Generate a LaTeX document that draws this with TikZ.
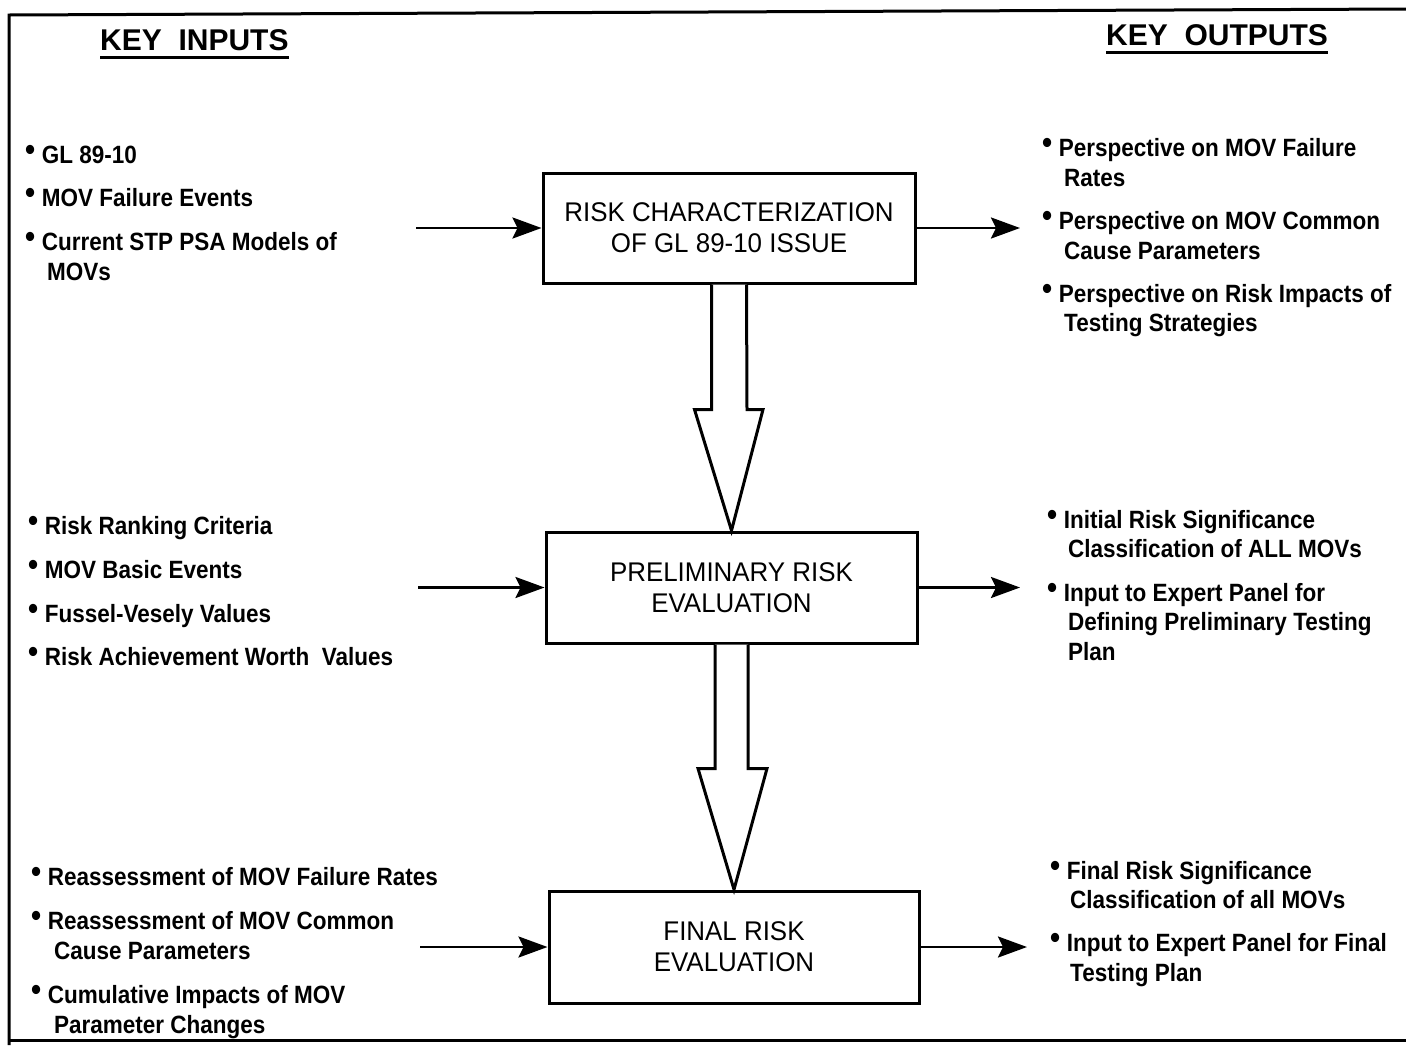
\documentclass[tikz,border=0pt]{standalone}
\usepackage{fontspec}
\setmainfont{Liberation Sans}
\newfontfamily\itemfont{Liberation Sans}[FakeStretch=0.9]
\newfontfamily\boxfont{Liberation Sans}[FakeStretch=0.96]
\usetikzlibrary{arrows.meta,calc}

% raised bullet in front of each list entry
\newcommand\bul{\raisebox{2.5pt}{\fontsize{32}{32}\selectfont •}\hspace{6.5pt}}

\tikzset{
  frame/.style={line width=3pt},
  procbox/.style={draw, line width=3pt, inner sep=0pt, align=center,
    font=\boxfont\fontsize{27}{31}\selectfont},
  flow/.style={line width=2.6pt, -{Stealth[length=29pt, width=21pt, inset=5pt]}},
  bigarrow/.style={draw, line width=3pt, fill=white, line join=miter},
  heading/.style={anchor=base west, inner sep=0pt,
    font=\bfseries\fontsize{30}{36}\selectfont},
  uline/.style={line width=3pt},
  entry/.style={anchor=base west, inner sep=0pt,
    font=\itemfont\bfseries\fontsize{25}{30}\selectfont},
}

\begin{document}
\begin{tikzpicture}[x=1pt, y=-1pt]
\fill[white] (0,0) rectangle (1406,1045);
\useasboundingbox (0,0) rectangle (1406,1045);

% outer frame
\draw[frame] (1406,9) -- (9,15) -- (9,1045);
\draw[frame] (9,1040) -- (1406,1040);

% column headings
\node[heading] (hin) at (100,50) {KEY\ \ INPUTS};
\draw[uline] ([yshift=-7pt]hin.base west) -- ([yshift=-7pt]hin.base east);
\node[heading] (hout) at (1106,45) {KEY\ \ OUTPUTS};
\draw[uline] ([yshift=-7pt]hout.base west) -- ([yshift=-7pt]hout.base east);

% process boxes
\node[procbox, minimum width=372pt, minimum height=110pt] (b1) at (729,228)
  {RISK CHARACTERIZATION\\OF GL 89-10 ISSUE};
\node[procbox, minimum width=371pt, minimum height=111pt] (b2) at (731.5,587.5)
  {PRELIMINARY RISK\\EVALUATION};
\node[procbox, minimum width=370pt, minimum height=112pt] (b3) at (734,947)
  {FINAL RISK\\EVALUATION};

% hollow block arrows between the boxes
\draw[bigarrow] ([xshift=-17.5pt]b1.south) -- ++(0,125) -- ++(-17,0)
  -- (b2.north) -- ($(b1.south)+(34,125)$) -- ++(-16,0) -- ([xshift=17.5pt]b1.south);
\draw[bigarrow] ([xshift=-16.5pt]b2.south) -- ++(0,124) -- ++(-17,0)
  -- (b3.north) -- ($(b2.south)+(35.5,124)$) -- ++(-19,0) -- ([xshift=16.5pt]b2.south);

% input and output connectors
\coordinate (i1) at (416,228);
\coordinate (i2) at (418,587.5);
\coordinate (i3) at (420,947);
\coordinate (o1) at (1020,228);
\coordinate (o2) at (1020,587.5);
\coordinate (o3) at (1027,947);
\draw[flow] (i1) -- (b1.west);
\draw[flow] (i2) -- (b2.west);
\draw[flow] (i3) -- (b3.west);
\draw[flow] (b1.east) -- (o1);
\draw[flow] (b2.east) -- (o2);
\draw[flow] (b3.east) -- (o3);

% key inputs
\node[entry] (in1)  at (25,163)  {\bul GL 89-10};
\node[entry] (in2)  at (25,206)  {\bul MOV Failure Events};
\node[entry] (in3)  at (25,250)  {\bul Current STP PSA Models of};
\node[entry] (in3b) at (47,280)  {MOVs};
\node[entry] (in4)  at (28,534)  {\bul Risk Ranking Criteria};
\node[entry] (in5)  at (28,578)  {\bul MOV Basic Events};
\node[entry] (in6)  at (28,622)  {\bul Fussel-Vesely Values};
\node[entry] (in7)  at (28,665)  {\bul Risk Achievement Worth\ \ Values};
\node[entry] (in8)  at (31,885)  {\bul Reassessment of MOV Failure Rates};
\node[entry] (in9)  at (31,929)  {\bul Reassessment of MOV Common};
\node[entry] (in9b) at (54,959)  {Cause Parameters};
\node[entry] (in10) at (31,1003) {\bul Cumulative Impacts of MOV};
\node[entry] (in10b) at (54,1033) {Parameter Changes};

% key outputs
\node[entry] (out1)  at (1042,156) {\bul Perspective on MOV Failure};
\node[entry] (out1b) at (1064,186) {Rates};
\node[entry] (out2)  at (1042,229) {\bul Perspective on MOV Common};
\node[entry] (out2b) at (1064,259) {Cause Parameters};
\node[entry] (out3)  at (1042,302) {\bul Perspective on Risk Impacts of};
\node[entry] (out3b) at (1064,331) {Testing Strategies};
\node[entry] (out4)  at (1047,528) {\bul Initial Risk Significance};
\node[entry] (out4b) at (1068,557) {Classification of ALL MOVs};
\node[entry] (out5)  at (1047,601) {\bul Input to Expert Panel for};
\node[entry] (out5b) at (1068,630) {Defining Preliminary Testing};
\node[entry] (out5c) at (1068,660) {Plan};
\node[entry] (out6)  at (1050,879) {\bul Final Risk Significance};
\node[entry] (out6b) at (1070,908) {Classification of all MOVs};
\node[entry] (out7)  at (1050,951) {\bul Input to Expert Panel for Final};
\node[entry] (out7b) at (1070,981) {Testing Plan};
\end{tikzpicture}
\end{document}
